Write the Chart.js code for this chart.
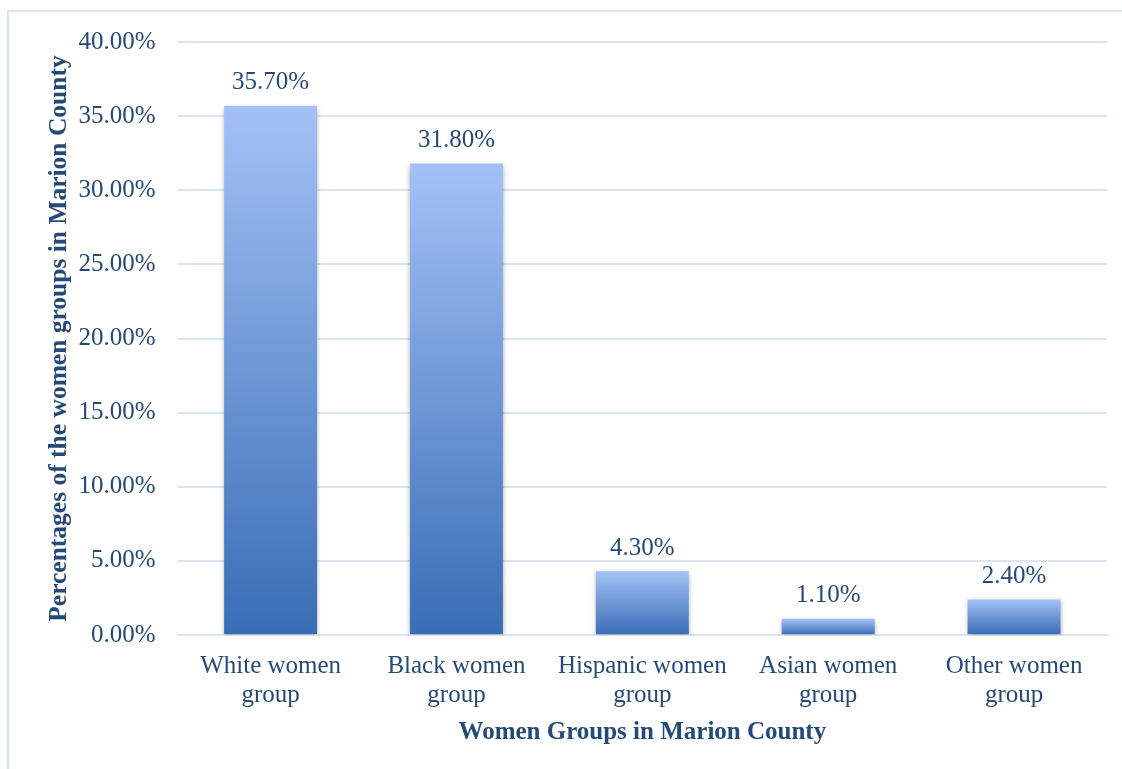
<!DOCTYPE html>
<html>
<head>
<meta charset="utf-8">
<script src="https://cdn.jsdelivr.net/npm/chart.js@4.4.1/dist/chart.umd.min.js"></script>
<style>
  html, body { margin: 0; padding: 0; background: #fff; overflow: hidden; }
  #wrap { position: relative; width: 1122px; height: 769px; }
  #frame {
    position: absolute; left: 7px; top: 10px; right: -20px; bottom: -20px;
    border: 2px solid #d8e4f3;
  }
  canvas { position: absolute; left: 0; top: 0; }
</style>
</head>
<body>
<div id="wrap">
  <div id="frame"></div>
  <canvas id="groupsChart" width="1122" height="769"></canvas>
</div>
<script>
// Share of each women group in Marion County (percent)
const groups = [
  ['White women', 'group'],
  ['Black women', 'group'],
  ['Hispanic women', 'group'],
  ['Asian women', 'group'],
  ['Other women', 'group']
];
const shares = [35.7, 31.8, 4.3, 1.1, 2.4];
const yTicks = [0, 5, 10, 15, 20, 25, 30, 35, 40];

const textColor = '#264a78';
const fontFamily = '"Liberation Serif", "DejaVu Serif", serif';

// each bar fades from light blue at its top to deeper blue at the base
function barGradient(context) {
    const chart = context.chart;
    if (!chart.chartArea || context.type !== 'data') return '#6e97d5';
    const yScale = chart.scales.y;
    const top = yScale.getPixelForValue(context.raw);
    const bottom = yScale.getPixelForValue(0);
    if (!isFinite(top) || bottom - top < 1) return '#6e97d5';
    const g = chart.ctx.createLinearGradient(0, top, 0, bottom);
    g.addColorStop(0, '#a4c1f6');
    g.addColorStop(1, '#386db5');
    return g;
}

// soft shadow under the bars
const barShadow = {
    id: 'barShadow',
    beforeDatasetsDraw(chart) {
        const ctx = chart.ctx;
        ctx.save();
        ctx.shadowColor = 'rgba(0, 0, 0, 0.35)';
        ctx.shadowBlur = 5;
        ctx.shadowOffsetX = 0;
        ctx.shadowOffsetY = 2;
    },
    afterDatasetsDraw(chart) {
        chart.ctx.restore();
    }
};

// value labels above each bar
const valueLabels = {
    id: 'valueLabels',
    afterDraw(chart) {
        const ctx = chart.ctx;
        const meta = chart.getDatasetMeta(0);
        ctx.save();
        ctx.font = '25px ' + fontFamily;
        ctx.fillStyle = textColor;
        ctx.textAlign = 'center';
        ctx.textBaseline = 'middle';
        meta.data.forEach((bar, i) => {
            ctx.fillText(shares[i].toFixed(2) + '%', bar.x, bar.y - 23);
        });
        ctx.restore();
    }
};

window.onload = function () {
    const ctx = document.getElementById('groupsChart').getContext('2d');
    new Chart(ctx, {
        type: 'bar',
        data: {
            labels: groups,
            datasets: [{
                data: shares,
                backgroundColor: barGradient,
                borderWidth: 0,
                barPercentage: 0.5,
                categoryPercentage: 1.0
            }]
        },
        options: {
            responsive: false,
            animation: false,
            layout: { padding: { left: 44, right: 15, top: 42, bottom: 21 } },
            plugins: {
                legend: { display: false },
                tooltip: { enabled: false }
            },
            scales: {
                x: {
                    grid: { display: false, drawTicks: false },
                    border: { display: true, color: '#d8e4f3', width: 2 },
                    ticks: {
                        color: textColor,
                        font: { family: fontFamily, size: 25, lineHeight: 1.16 },
                        padding: 17,
                        maxRotation: 0,
                        autoSkip: false
                    },
                    title: {
                        display: true,
                        text: 'Women Groups in Marion County',
                        color: textColor,
                        font: { family: fontFamily, size: 25, weight: 'bold' },
                        padding: { top: -9, bottom: 0 }
                    }
                },
                y: {
                    min: 0,
                    max: 40,
                    afterBuildTicks(axis) {
                        axis.ticks = yTicks.map(v => ({ value: v }));
                    },
                    grid: { color: '#d8e4f3', lineWidth: 2, drawTicks: false },
                    border: { display: false },
                    ticks: {
                        color: textColor,
                        font: { family: fontFamily, size: 25 },
                        padding: 22,
                        callback: v => v.toFixed(2) + '%'
                    },
                    title: {
                        display: true,
                        text: 'Percentages of the women groups in Marion County',
                        color: textColor,
                        font: { family: fontFamily, size: 25.5, weight: 'bold' },
                        padding: { top: 0, bottom: -18 }
                    }
                }
            }
        },
        plugins: [barShadow, valueLabels]
    });
};
</script>
</body>
</html>
